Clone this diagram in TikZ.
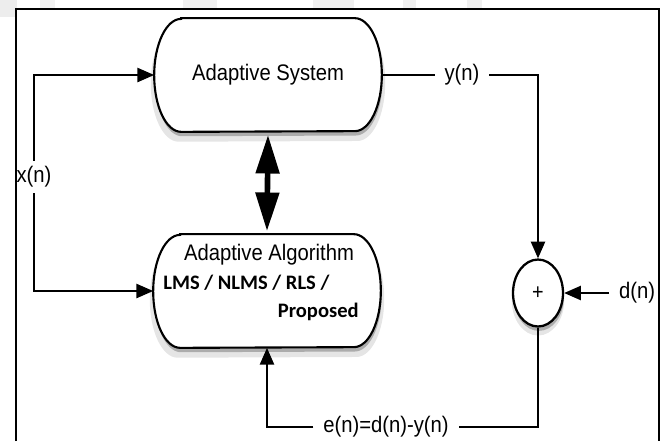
\documentclass[tikz,border=0pt]{standalone}
\usepackage{fontspec}
\setmainfont{Liberation Sans}[FakeStretch=0.9]
\newfontfamily\carlito{Carlito}
\usepackage{tikz}
\usetikzlibrary{arrows.meta, shapes.geometric, shadows, calc}

\tikzset{
    blockbox/.style={minimum width=4.54cm, minimum height=2.26cm},
    pill/.style={draw, line width=1.2pt, fill=white,
        general shadow={shadow xshift=0pt, shadow yshift=-4.5pt, fill=black, opacity=0.10, shadow scale=1.03},
        drop shadow={shadow xshift=0.5pt, shadow yshift=-2.5pt, fill=black, opacity=0.25}},
    sumnode/.style={draw, line width=1.3pt, fill=white, ellipse, inner sep=0pt,
        minimum width=1cm, minimum height=1.34cm,
        general shadow={shadow xshift=0pt, shadow yshift=-4pt, fill=black, opacity=0.10, shadow scale=1.05},
        drop shadow={shadow xshift=0.5pt, shadow yshift=-2.5pt, fill=black, opacity=0.25}},
    sig/.style={inner sep=5.5pt, font=\fontsize{12.8}{15}\selectfont},
    wire/.style={line width=1.15pt},
    tip/.style={wire, -{Triangle[length=9.5pt,width=8pt]}},
    bigtip/.style={line width=3.2pt, {Triangle[length=22pt,width=13pt]}-{Triangle[length=22pt,width=13pt]}}
}
% rounded outline with elliptic ends, drawn round a named node
\newcommand{\pillbox}[1]{%
    \path[pill] ($(#1.north west)+(27,0)$) -- ($(#1.north east)+(-27,0)$)
        arc[start angle=90, end angle=-90, x radius=0.54cm, y radius=1.13cm]
        -- ($(#1.south west)+(27,0)$)
        arc[start angle=270, end angle=90, x radius=0.54cm, y radius=1.13cm] -- cycle;}

\begin{document}
\begin{tikzpicture}[x=0.02cm, y=-0.02cm]
    \useasboundingbox (0,0) rectangle (665,441);
    \fill[gray!14] (0,0) rectangle (17,17);
    \fill[gray!10] (40,0) rectangle (55,8);
    \fill[gray!12] (183,0) rectangle (217,8);
    \fill[gray!12] (313,0) rectangle (354,8);
    \fill[gray!12] (403,0) rectangle (416,8);
    \fill[gray!12] (467,0) rectangle (482,8);
    \draw[line width=1.3pt] (16,441) |- (659,9) -- (659,441);

    \node[blockbox] (sys) at (268,75) {};
    \pillbox{sys}
    \node[sig] (systxt) at (sys.center) {Adaptive System};
    \node[blockbox] (alg) at (267,291) {};
    \pillbox{alg}
    \node[sig, inner sep=0pt] (algtxt) at (269,255) {Adaptive Algorithm};
    \node[anchor=west, inner sep=0pt, font=\carlito\bfseries\fontsize{11.7}{14}\selectfont] (lms) at (163,283) {LMS / NLMS / RLS /};
    \node[anchor=east, inner sep=0pt, font=\carlito\bfseries\fontsize{11.7}{14}\selectfont] (prop) at (359,312) {Proposed};
    \node[sumnode] (sum) at (538,293) {};
    \node[font=\fontsize{12.5}{15}\selectfont] at (sum.center) {+};

    \node[sig, inner sep=3pt] (xlab) at (34,177) {x(n)};
    \node[sig] (ylab) at (462,75) {y(n)};
    \node[sig] (dlab) at (637,293) {d(n)};
    \node[sig] (elab) at (386,427) {e(n)=d(n)-y(n)};

    \draw[tip] (xlab.north) |- (sys.west);
    \draw[tip] (xlab.south) |- (alg.west);
    \draw[wire] (sys.east) -- (ylab.west);
    \draw[tip] (ylab.east) -| (sum.north);
    \draw[tip] (dlab.west) -- (sum.east);
    \draw[wire] (sum.south) |- (elab.east);
    \draw[tip] (elab.west) -| (alg.south);
    \draw[bigtip] ($(sys.south)+(0,3)$) -- ($(alg.north)+(0,-3)$);
\end{tikzpicture}
\end{document}
